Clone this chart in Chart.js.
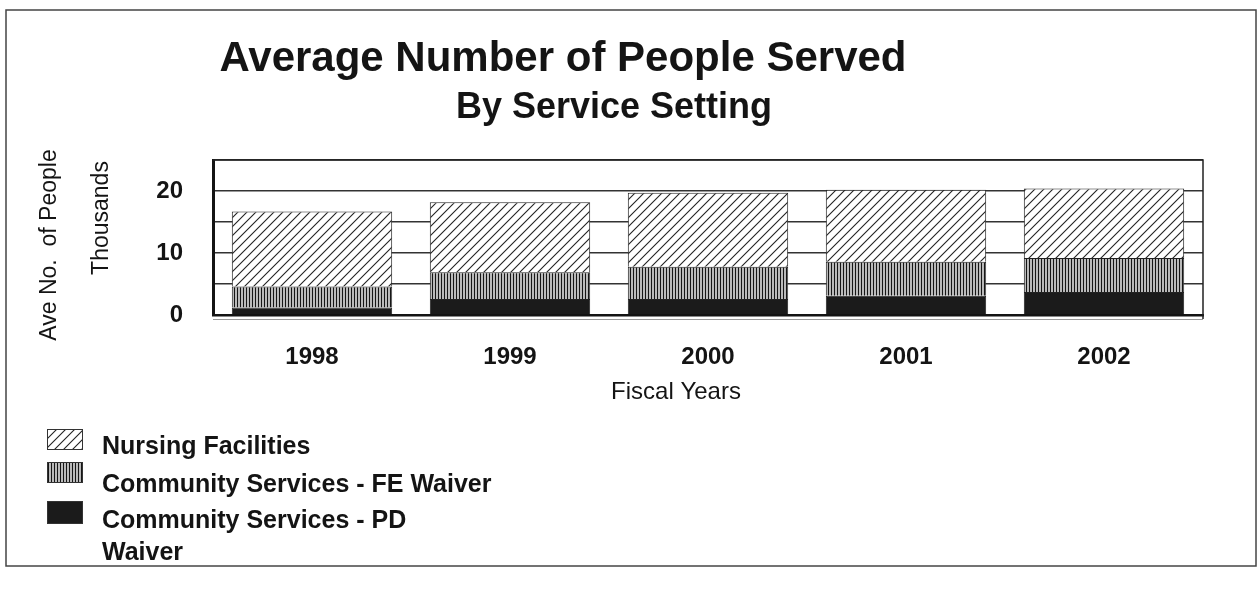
<!DOCTYPE html>
<html>
<head>
<meta charset="utf-8">
<title>Average Number of People Served</title>
<script src="https://cdn.jsdelivr.net/npm/chart.js@4.4.1/dist/chart.umd.min.js"></script>
<style>
	html, body { margin:0; padding:0; background:#fff; }
	#chart { display:block; }
</style>
</head>
<body>
<canvas id="chart" width="1260" height="591"></canvas>
<script>
// values in thousands
const years = ['1998', '1999', '2000', '2001', '2002'];
const pdWaiver = [1.2, 2.6, 2.6, 3.1, 3.7];
const feWaiver = [3.4, 4.3, 5.2, 5.5, 5.5];
const nursing = [12.1, 11.3, 11.9, 11.6, 11.2];
const yTicks = [0, 10, 20];

const chartTitle = 'Average Number of People Served';
const chartSubtitle = 'By Service Setting';
const yTitle = ['Ave No.  of People', 'Thousands'];
const xTitle = 'Fiscal Years';
const legendLines = [['Nursing Facilities'], ['Community Services - FE Waiver'], ['Community Services - PD', 'Waiver']];

const FONT = '"Liberation Sans", Arial, sans-serif';
const INK = '#141414';

const makePattern = (w, h, draw) => {
	const c = document.createElement('canvas');
	c.width = w; c.height = h;
	const g = c.getContext('2d');
	draw(g, w, h);
	return g.createPattern(c, 'repeat');
};
const diagonal = makePattern(9, 9, (g, w, h) => {
	g.fillStyle = '#fff'; g.fillRect(0, 0, w, h);
	g.strokeStyle = '#222'; g.lineWidth = 1.1;
	g.beginPath();
	g.moveTo(-1, h + 1); g.lineTo(w + 1, -1);
	g.moveTo(-1, 1); g.lineTo(1, -1);
	g.moveTo(w - 1, h + 1); g.lineTo(w + 1, h - 1);
	g.stroke();
});
const vertical = makePattern(3, 4, (g, w, h) => {
	g.fillStyle = '#bababa'; g.fillRect(0, 0, w, h);
	g.fillStyle = '#161616'; g.fillRect(0, 0, 1, h);
});
const solid = '#1b1b1b';

const decor = {
	id: 'decor',
	afterDraw(chart) {
		const { ctx, chartArea: a } = chart;
		ctx.save();
		// plot box top + right, floor line
		ctx.strokeStyle = '#222'; ctx.lineWidth = 1.5;
		ctx.beginPath();
		ctx.moveTo(a.left, a.top); ctx.lineTo(a.right, a.top); ctx.lineTo(a.right, a.bottom + 4);
		ctx.stroke();
		ctx.strokeStyle = '#9a9a9a'; ctx.lineWidth = 1;
		ctx.beginPath(); ctx.moveTo(a.left, a.bottom + 4.5); ctx.lineTo(a.right, a.bottom + 4.5); ctx.stroke();
		// outer frame
		ctx.strokeStyle = '#444'; ctx.lineWidth = 1.5;
		ctx.strokeRect(6, 10, 1250, 556);

		ctx.fillStyle = INK;
		ctx.textAlign = 'center';
		ctx.textBaseline = 'alphabetic';
		ctx.font = 'bold 42px ' + FONT;
		ctx.fillText(chartTitle, 563, 71);
		ctx.font = 'bold 36px ' + FONT;
		ctx.fillText(chartSubtitle, 614, 118);

		// axis titles
		ctx.font = '23px ' + FONT;
		ctx.textBaseline = 'middle';
		[[50, 245], [102, 218]].forEach(([x, y], i) => {
			ctx.save();
			ctx.translate(x, y); ctx.rotate(-Math.PI / 2);
			ctx.fillText(yTitle[i], 0, 0);
			ctx.restore();
		});
		ctx.font = '24px ' + FONT;
		ctx.fillText(xTitle, 676, 392);

		// legend, top to bottom = reverse of stacking order
		const sets = chart.data.datasets.slice().reverse();
		const boxes = [[429, 21], [462, 21], [501, 23]];
		const baselines = [454, 492, 528];
		ctx.textAlign = 'left';
		ctx.textBaseline = 'alphabetic';
		ctx.font = 'bold 25px ' + FONT;
		sets.forEach((ds, i) => {
			const [by, bh] = boxes[i];
			ctx.fillStyle = ds.backgroundColor;
			ctx.fillRect(47, by, 36, bh);
			ctx.strokeStyle = '#333'; ctx.lineWidth = 1;
			ctx.strokeRect(47.5, by + 0.5, 35, bh - 1);
			ctx.fillStyle = INK;
			legendLines[i].forEach((t, j) => ctx.fillText(t, 102, baselines[i] + j * 32));
		});
		ctx.restore();
	}
};

new Chart(document.getElementById('chart'), {
	type: 'bar',
	data: {
		labels: years,
		datasets: [
			{ label: 'Community Services - PD Waiver', data: pdWaiver, backgroundColor: solid },
			{ label: 'Community Services - FE Waiver', data: feWaiver, backgroundColor: vertical },
			{ label: 'Nursing Facilities', data: nursing, backgroundColor: diagonal }
		].map(d => Object.assign(d, { borderColor: '#222', borderWidth: 1, categoryPercentage: 1, barPercentage: 0.81 }))
	},
	options: {
		responsive: false,
		animation: false,
		layout: { padding: { left: 0, right: 57, top: 160, bottom: 216 } },
		plugins: { legend: { display: false }, tooltip: { enabled: false } },
		scales: {
			x: {
				stacked: true,
				afterFit: (s) => { s.height = 60; },
				grid: { display: false },
				border: { display: true, color: INK, width: 2.5 },
				ticks: { color: INK, padding: 20, font: { family: FONT, size: 24, weight: 'bold' } }
			},
			y: {
				stacked: true,
				min: 0, max: 25,
				afterFit: (s) => { s.width = 213; },
				grid: { color: '#333', lineWidth: 1.5, drawTicks: false },
				border: { display: true, color: INK, width: 3 },
				ticks: {
					stepSize: 5, padding: 30, color: INK, autoSkip: false,
					font: { family: FONT, size: 24, weight: 'bold' },
					callback: (v) => yTicks.includes(v) ? String(v) : ''
				}
			}
		}
	},
	plugins: [decor]
});
</script>
</body>
</html>
